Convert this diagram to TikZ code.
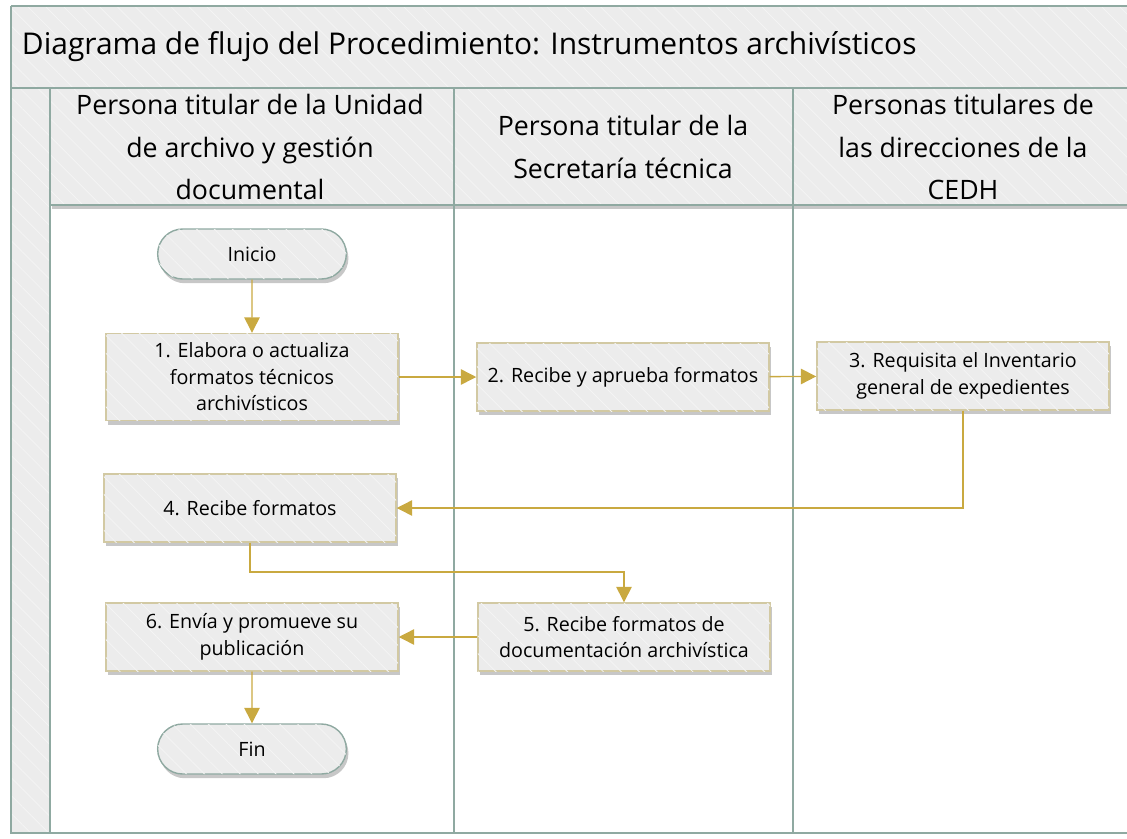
\documentclass[tikz,border=0pt]{standalone}
\usepackage{fontspec}
\setmainfont{Open Sans}
\usepackage{tikz}
\usetikzlibrary{arrows.meta,shapes.misc,shadows,patterns.meta}

\definecolor{laneline}{HTML}{8FA9A1}
\definecolor{flowgold}{HTML}{C9A940}
\definecolor{boxedge}{HTML}{D2C9A3}
\definecolor{panefill}{HTML}{ECECEC}
\definecolor{stripe}{HTML}{F4F4F4}

\newcommand{\titlefont}{\fontsize{21.3}{24}\selectfont}
\newcommand{\lanefont}{\fontsize{19}{30}\selectfont}
\newcommand{\boxfont}{\fontsize{14}{18.8}\selectfont}

\tikzset{
  hatch/.style={fill=panefill,
    postaction={pattern={Lines[angle=-45,distance=9pt,line width=0.6pt]},
      pattern color=stripe}},
  softshadow/.style={drop shadow={shadow xshift=1.5pt,shadow yshift=-3pt,
      fill=black,opacity=0.22}},
  laneedge/.style={draw=laneline,line width=1.6pt},
  proc/.style={draw=boxedge,line width=1pt,hatch,softshadow,
    minimum width=7.3cm,minimum height=1.7cm,align=center,font=\boxfont},
  term/.style={rounded rectangle,draw=laneline,line width=1pt,hatch,softshadow,
    minimum width=4.95cm,minimum height=1.25cm,font=\boxfont},
  flow/.style={draw=flowgold,line width=1pt,-{Triangle[length=11pt,width=11pt]}},
}

\begin{document}
\begin{tikzpicture}[x=0.025cm,y=-0.025cm]
\useasboundingbox (0,0) rectangle (1127,838);
\clip (0,0) rectangle (1127,838);

% pool frame
\path[hatch] (11,6) rectangle (1140,88);
\path[hatch] (11,88) rectangle (50,833);
\path[hatch,softshadow] (50,88) rectangle (1140,205);
\draw[laneedge] (11,6) -- (1140,6);
\draw[laneedge] (11,6) -- (11,833) -- (1140,833);
\draw[laneedge] (11,88) -- (1140,88);
\draw[laneedge] (50,88) -- (50,833);
\draw[laneedge] (50,205) -- (1140,205);
\foreach \x in {454,793}
    \draw[laneedge] (\x,88) -- (\x,833);

\node[anchor=west,font=\titlefont] (title) at (17,47)
    {Diagrama de flujo del Procedimiento: Instrumentos archivísticos};
\node[align=center,font=\lanefont] (lane1) at (250,147)
    {Persona titular de la Unidad\\de archivo y gestión\\documental};
\node[align=center,font=\lanefont] (lane2) at (623,147)
    {Persona titular de la\\Secretaría técnica};
\node[align=center,font=\lanefont] (lane3) at (963,147)
    {Personas titulares de\\las direcciones de la\\CEDH};

% steps
\node[term] (inicio) at (252,254) {Inicio};
\node[proc,minimum height=2.175cm] (p1) at (252,377)
    {1. Elabora o actualiza\\formatos técnicos\\archivísticos};
\node[proc] (p2) at (623,377) {2. Recibe y aprueba formatos};
\node[proc] (p3) at (963,376) {3. Requisita el Inventario\\general de expedientes};
\node[proc] (p4) at (250,508) {4. Recibe formatos};
\node[proc] (p5) at (624,637) {5. Recibe formatos de\\documentación archivística};
\node[proc] (p6) at (252,637) {6. Envía y promueve su\\publicación};
\node[term] (fin) at (252,749) {Fin};
\coordinate (bend) at (250,572);

% flow
\draw[flow] (inicio) -- (p1);
\draw[flow] (p1) -- (p2);
\draw[flow] (p2) -- (p3);
\draw[flow] (p3.south) |- (p4.east);
\draw[flow] (p4.south) -- (bend) -| (p5.north);
\draw[flow] (p5) -- (p6);
\draw[flow] (p6) -- (fin);
\end{tikzpicture}
\end{document}
